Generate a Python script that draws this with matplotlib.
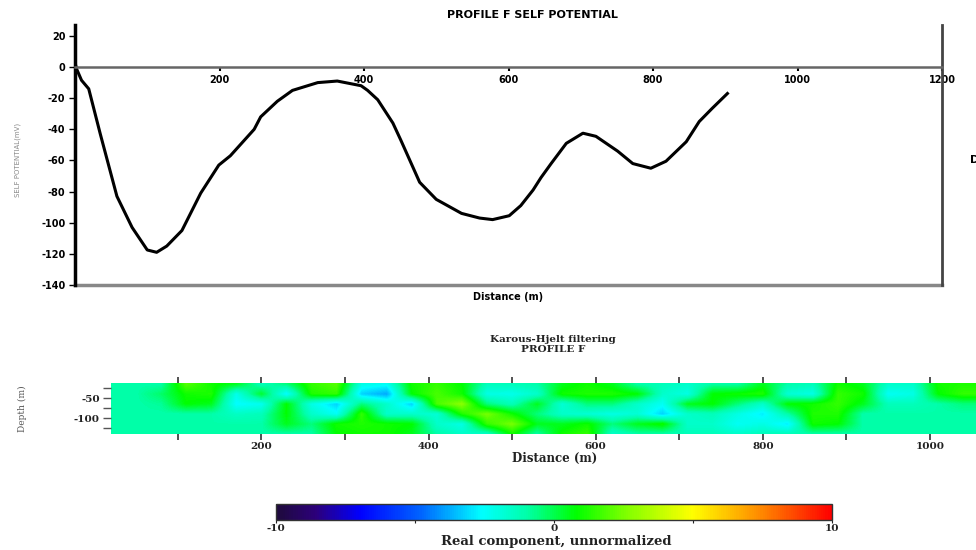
import matplotlib
matplotlib.use("Agg")
import matplotlib.pyplot as plt
import numpy as np
from matplotlib.colors import LinearSegmentedColormap

# Self potential profile F (distance in m, SP in mV)
sp_x = [0, 2, 9, 19, 35, 58, 79, 100, 113, 127, 148, 174, 199, 215, 248, 257,
        280, 301, 336, 363, 396, 405, 419, 440, 451, 477, 500, 535, 560, 578,
        601, 617, 634, 645, 659, 680, 703, 721, 751, 772, 797, 818, 846, 864,
        882, 903]
sp_mv = [3, -1, -8.5, -14, -43, -83, -103, -117.5, -119, -115, -105, -81, -63,
         -57, -40, -32, -22, -15, -10, -9, -12, -15, -21, -36, -47, -74, -85,
         -94, -97, -98, -95.5, -89, -79, -71, -62, -49, -42.5, -44.5, -54, -62,
         -65, -60.5, -48, -35, -26.5, -17]
sp_xticks = [200, 400, 600, 800, 1000, 1200]
sp_yticks = [-140, -120, -100, -80, -60, -40, -20, 0, 20]

# Karous-Hjelt section: columns are distances, rows are depths
kh_dist = [20, 50, 80, 110, 140, 170, 200, 230, 260, 290, 320, 350, 380, 410,
           440, 470, 500, 530, 560, 590, 620, 650, 680, 710, 740, 770, 800,
           830, 860, 890, 920, 950, 980, 1010, 1040]
kh_depth = [-15, -40, -65, -90, -115, -140]
kh_row_15 = [-1, -1, -1, 2.0, 1.0, 0.5, -1.3, -0.5, 1.5, 2.0, -2.1, -2.4, 1.0,
             1.5, 0.8, -1.3, -1.3, -1.0, 0.5, 1.0, 0.5, -1.0, -1.3, -1.6, -1.0,
             -1.0, 0.5, -1.0, -1.3, 1.0, 0.5, -1.6, -1.6, 1.0, 1.2]
kh_row_40 = [-1, -1, -0.3, 1.0, 1.2, -2.2, 0.3, -2.6, 1.2, 1.5, -3.2, -3.8, 0.8,
             1.8, 1.0, -2.1, -2.2, -1.6, 1.0, 1.2, 1.2, 0.8, -1.6, -2.1, 0.8,
             1.0, 1.2, -1.8, -2.1, 1.5, 1.0, -2.4, -2.1, 0.8, 1.5]
kh_row_65 = [-1, -1, -0.8, 0.8, 0.5, -2.6, -2.3, 0.8, -2.1, -3.2, -0.5, -1.6,
             -3.2, 1.8, 2.8, -0.5, -1.3, 0.5, -1.8, -0.5, -0.5, -1.6, -2.4, 0.5,
             0.8, -0.5, -1.6, 0.8, 1.0, 1.5, 0.5, -1.3, -1.3, -1.0, -0.5]
kh_row_90 = [-1, -1, -1, -1, -1, -1.5, -1.3, 0.8, -1.6, -2.4, 1.5, -1.6, -1.6,
             -1.8, 1.2, 2.5, 1.0, -0.5, -1.6, -1.8, -2.1, -1.8, -3.2, -1.6,
             -1.3, -2.1, -2.8, -1.0, 1.2, 1.2, -1.0, -1, -1, -1, -1]
kh_row_115 = [-1, -1, -1, -1, -1, -1, -1, 0.5, -0.5, 1.0, 1.2, 1.0, 0.8, -1.6,
              -2.1, 1.5, 2.5, 0.5, 0.5, 1.0, -0.5, 0.5, 1.0, -1.6, -1.6, -2.4,
              -2.1, -2.8, 1.0, 0.8, -1.0, -1, -1, -1, -1]
kh_row_140 = [-1, -1, -1, -1, -1, -1, -1, -1, -1, 0.8, 1.0, 1.0, 0.5, -1.0,
              -1.6, -1.6, 1.0, -1.0, 1.0, 1.5, -1.6, -1.0, -1.0, -1.3, -1.3,
              -1.6, -1.3, -1.3, -1.0, -1.0, -1.0, -1, -1, -1, -1]
kh_xticks = [100, 200, 300, 400, 500, 600, 700, 800, 900, 1000]
kh_xlabels = ["", "200", "", "400", "", "600", "", "800", "", "1000"]
kh_yticks = [-125, -100, -75, -50, -25]
kh_ylabels = ["", "-100", "", "-50", ""]
cbar_ticks = [-10, -5, 0, 5, 10]
cbar_labels = ["-10", "", "0", "", "10"]

W, H = 976, 550
fig = plt.figure(figsize=(W / 100, H / 100), dpi=100)

# ---------------- top: self potential ----------------
ax1 = fig.add_axes([75 / W, 1 - 285 / H, (942 - 75) / W, 260 / H])
ax1.plot(sp_x, sp_mv, color="black", lw=2.2)
ax1.set_xlim(0, 1200)
ax1.set_ylim(-140, 27)
ax1.spines["top"].set_visible(False)
ax1.spines["bottom"].set_position(("data", 0))
ax1.spines["bottom"].set_color("#666666")
ax1.spines["bottom"].set_linewidth(1.8)
ax1.spines["left"].set_linewidth(2.5)
ax1.spines["right"].set_color("#444444")
ax1.spines["right"].set_linewidth(2)
ax1.axhline(-140, color="#888888", lw=2.5, clip_on=False)
ax1.set_xticks(sp_xticks)
ax1.set_xticklabels([str(v) for v in sp_xticks], fontsize=7, fontweight="bold")
ax1.set_yticks(sp_yticks)
ax1.set_yticklabels([str(v) for v in sp_yticks], fontsize=7, fontweight="bold")
ax1.tick_params(axis="x", direction="out", length=3, width=1.5, pad=3)
ax1.tick_params(axis="y", direction="out", length=4, width=1, pad=3)
ax1.text(0.5, -0.045, "Distance (m)", transform=ax1.transAxes, ha="center",
         va="center", fontsize=7, fontweight="bold")
fig.text(18 / W, 1 - 160 / H, "SELF POTENTIAL(mV)", rotation=90, ha="center",
         va="center", fontsize=5, color="#888888")
fig.text(532 / W, 1 - 15 / H, "PROFILE F SELF POTENTIAL", ha="center",
         va="center", fontsize=8, fontweight="bold")
fig.text(970 / W, 1 - 160 / H, "D", ha="left", va="center", fontsize=8,
         fontweight="bold")

# ---------------- bottom: Karous-Hjelt section ----------------
cmap = LinearSegmentedColormap.from_list("kh", [
    (0.0, "#1e0a3c"), (0.07, "#2c007a"), (0.15, "#0000ff"), (0.26, "#0064ff"),
    (0.37, "#00ffff"), (0.45, "#00ffaa"), (0.54, "#00ff00"), (0.63, "#80ff00"),
    (0.75, "#ffff00"), (0.87, "#ff8c00"), (1.0, "#ff0000")])

kh_grid = np.array([kh_row_15, kh_row_40, kh_row_65, kh_row_90, kh_row_115,
                    kh_row_140])
dx = kh_dist[1] - kh_dist[0]
dz = kh_depth[0] - kh_depth[1]

serif = "DejaVu Serif"
tcol = "#222222"

ax2 = fig.add_axes([111 / W, 1 - 434 / H, 1 - 111 / W, 51 / H])
im = ax2.imshow(kh_grid, cmap=cmap, vmin=-10, vmax=10, aspect="auto",
                interpolation="bilinear", origin="upper",
                extent=[kh_dist[0] - dx / 2, kh_dist[-1] + dx / 2,
                        kh_depth[-1] - dz / 2, kh_depth[0] + dz / 2])
ax2.set_xlim(20, 1055)
ax2.set_ylim(-140, -12.5)
for s in ax2.spines.values():
    s.set_visible(False)
ax2.set_xticks(kh_xticks)
ax2.set_xticklabels(kh_xlabels, fontsize=7.5, family=serif, color=tcol,
                    fontweight="bold")
ax2.set_yticks(kh_yticks)
ax2.set_yticklabels(kh_ylabels, fontsize=7.5, family=serif, color=tcol,
                    fontweight="bold")
ax2.tick_params(axis="x", top=True, direction="out", length=4, width=1.2,
                pad=2, color="#333333")
ax2.tick_params(axis="y", direction="out", length=6, width=1, pad=2,
                color="#555555")
fig.text(553 / W, 1 - 340 / H, "Karous-Hjelt filtering", ha="center",
         va="center", fontsize=7.5, family=serif, color=tcol, fontweight="bold")
fig.text(553 / W, 1 - 350 / H, "PROFILE F", ha="center", va="center",
         fontsize=7.5, family=serif, color=tcol, fontweight="bold")
fig.text(555 / W, 1 - 458 / H, "Distance (m)", ha="center", va="center",
         fontsize=8.5, family=serif, color=tcol, fontweight="bold")
fig.text(22 / W, 1 - 409 / H, "Depth (m)", rotation=90, ha="center",
         va="center", fontsize=6.5, family=serif, color="#555555")

# ---------------- colorbar ----------------
cax = fig.add_axes([276 / W, 1 - 520 / H, (832 - 276) / W, 16 / H])
cb = fig.colorbar(im, cax=cax, orientation="horizontal", ticks=cbar_ticks)
cb.set_ticklabels(cbar_labels)
cb.outline.set_edgecolor("#333333")
cb.outline.set_linewidth(1)
cax.tick_params(length=2, pad=1, labelsize=7.5, colors=tcol)
for lab in cax.get_xticklabels():
    lab.set_family(serif)
    lab.set_fontweight("bold")
fig.text(556 / W, 1 - 541 / H, "Real component, unnormalized", ha="center",
         va="center", fontsize=9.5, family=serif, color=tcol, fontweight="bold")

fig.savefig("out.png", dpi=100)
